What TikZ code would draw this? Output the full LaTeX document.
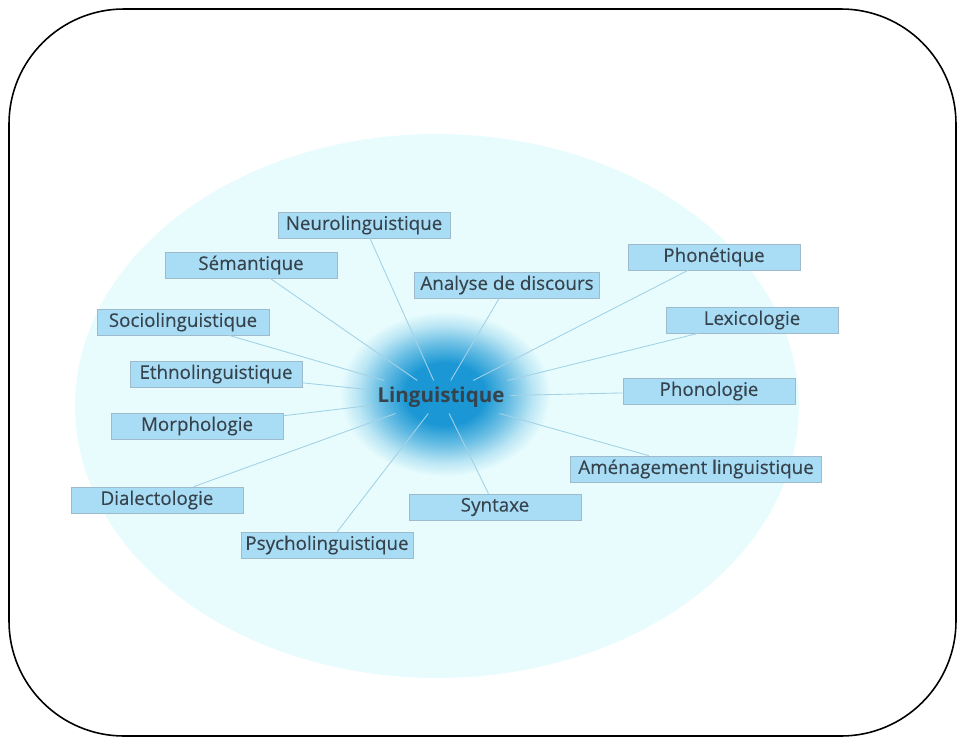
\documentclass[tikz,border=0pt]{standalone}
\usepackage{fontspec}
\setmainfont{Open Sans}
\newfontfamily\boxfont{Open Sans}[FakeBold=0.25]
\definecolor{haze}{HTML}{E8FCFD}
\definecolor{boxfill}{HTML}{A9DDF5}
\definecolor{boxline}{HTML}{9DBBCB}
\definecolor{ink}{HTML}{36434C}
\definecolor{core}{HTML}{1A97D4}
\definecolor{wire}{HTML}{A3D2E6}
\pgfdeclareradialshading{glow}{\pgfpoint{0bp}{0bp}}{color(0bp)=(core); color(9bp)=(core);
  color(15bp)=(core!60!haze); color(20bp)=(core!22!haze); color(24bp)=(haze); color(50bp)=(haze)}

\begin{document}
\begin{tikzpicture}[x=0.02cm, y=-0.02cm,
  branch/.style={draw=boxline, fill=boxfill, text=ink, minimum width=3.44cm,
    minimum height=0.52cm, inner sep=0pt, font=\boxfont\fontsize{10.7}{12}\selectfont},
  root/.style={text=ink, font=\bfseries\fontsize{11.7}{13}\selectfont},
  link/.style={draw=wire, line width=0.5pt}]
  \useasboundingbox (0,0) rectangle (958,738);
  \draw[line width=0.9pt, rounded corners=2.3cm] (9,9) rectangle (956,736);
  \fill[haze] (437,406) ellipse [x radius=7.24cm, y radius=5.44cm];
  \shade[shading=glow] (445,394) ellipse [x radius=2.2cm, y radius=1.72cm];
  \node[root] (ling) at (441,397) {Linguistique};
  \node[branch] (neuro) at (364,225) {Neurolinguistique};
  \node[branch] (seman) at (251,265) {Sémantique};
  \node[branch] (socio) at (183,322) {Sociolinguistique};
  \node[branch] (ethno) at (216,374) {Ethnolinguistique};
  \node[branch] (morph) at (197,426) {Morphologie};
  \node[branch] (dialec) at (157,500) {Dialectologie};
  \node[branch] (psycho) at (327,545) {Psycholinguistique};
  \node[branch] (syntax) at (495,507) {Syntaxe};
  \node[branch, minimum width=5.02cm] (amenag) at (696,469) {Aménagement linguistique};
  \node[branch] (phonol) at (709,391) {Phonologie};
  \node[branch] (lexico) at (752,320) {Lexicologie};
  \node[branch] (phonet) at (714,257) {Phonétique};
  \node[branch, minimum width=3.7cm] (discours) at (507,285) {Analyse de discours};
  \foreach \b in {neuro,seman,socio,ethno,morph,dialec,psycho,syntax,amenag,phonol,lexico,phonet,discours}
    \draw[link] (ling) -- (\b);
\end{tikzpicture}
\end{document}
